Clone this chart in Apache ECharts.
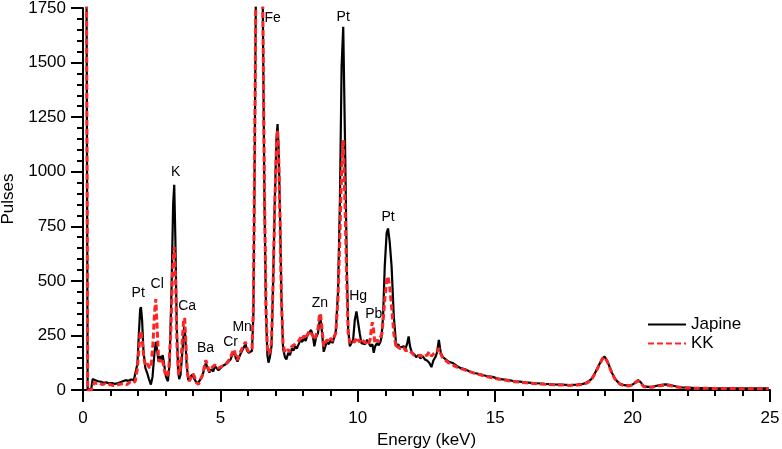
<!DOCTYPE html>
<html>
<head>
<meta charset="utf-8">
<script src="https://cdn.jsdelivr.net/npm/echarts@6/dist/echarts.min.js"></script>
<style>
html,body{margin:0;padding:0;background:#fff;}
#chart{width:782px;height:449px;}
</style>
</head>
<body>
<div id="chart"></div>
<script>
// Japine spectrum (energy keV, pulses)
var japineEnergy = [0.08,0.17,0.3,0.35,0.45,0.55,0.65,0.75,0.85,0.95,1.05,1.15,1.25,1.35,1.45,1.55,1.65,1.75,1.85,1.92,1.98,2.03,2.08,2.11,2.15,2.2,2.27,2.33,2.4,2.47,2.53,2.6,2.65,2.7,2.75,2.8,2.85,2.9,2.95,3.02,3.09,3.15,3.22,3.28,3.32,3.36,3.41,3.46,3.5,3.55,3.62,3.68,3.72,3.77,3.83,3.9,3.97,4.03,4.1,4.18,4.25,4.33,4.4,4.47,4.53,4.6,4.67,4.74,4.8,4.86,4.93,5.0,5.08,5.15,5.22,5.3,5.37,5.43,5.49,5.55,5.62,5.68,5.75,5.81,5.87,5.92,5.97,6.03,6.1,6.15,6.2,6.25,6.29,6.35,6.42,6.49,6.54,6.6,6.66,6.71,6.75,6.8,6.86,6.92,6.98,7.04,7.08,7.12,7.17,7.22,7.28,7.35,7.4,7.47,7.53,7.6,7.66,7.72,7.78,7.85,7.92,7.98,8.04,8.1,8.17,8.24,8.3,8.36,8.42,8.48,8.55,8.6,8.65,8.7,8.76,8.82,8.88,8.95,9.02,9.08,9.14,9.2,9.28,9.35,9.41,9.47,9.53,9.6,9.65,9.71,9.77,9.83,9.89,9.95,10.0,10.07,10.13,10.2,10.27,10.34,10.4,10.47,10.53,10.58,10.63,10.7,10.76,10.82,10.86,10.92,10.98,11.05,11.1,11.16,11.23,11.31,11.4,11.47,11.53,11.6,11.67,11.74,11.8,11.85,11.9,11.97,12.05,12.12,12.2,12.28,12.36,12.44,12.52,12.6,12.68,12.75,12.82,12.88,12.95,13.02,13.1,13.2,13.3,13.45,13.6,13.75,13.9,14.07,14.25,14.45,14.68,14.9,15.1,15.27,15.5,15.7,15.89,16.1,16.3,16.5,16.8,17.1,17.4,17.7,18.0,18.2,18.35,18.5,18.6,18.7,18.8,18.9,18.98,19.07,19.16,19.25,19.35,19.45,19.55,19.7,19.85,20.0,20.1,20.2,20.3,20.4,20.55,20.7,20.9,21.05,21.2,21.4,21.6,21.8,22.0,22.3,22.6,23.0,23.5,24.0,24.5,24.95];
var japinePulses = [4000,0,5,50,45,40,38,33,35,30,32,28,30,35,40,45,42,48,45,50,120,250,370,380,320,180,100,80,50,25,60,170,220,180,130,155,140,160,120,60,40,120,450,850,940,700,300,90,50,70,180,290,250,120,45,50,70,65,40,30,35,60,90,125,100,80,95,85,110,105,90,100,110,105,120,130,140,160,175,150,130,150,170,165,200,210,180,170,165,180,350,1100,1800,4000,5000,4000,1800,900,350,160,125,150,200,500,870,1150,1218,1100,800,420,190,150,140,170,160,190,180,200,190,210,230,220,240,225,250,265,275,250,200,240,260,310,320,260,175,200,220,210,230,215,240,270,450,870,1480,1664,1176,565,280,200,215,230,320,360,366,260,215,220,210,230,215,200,210,170,200,215,205,220,240,336,565,720,740,680,565,336,200,210,195,190,200,190,215,245,200,170,165,150,160,145,155,140,135,125,105,135,150,170,230,170,150,140,130,124,110,100,95,85,78,72,64,60,52,49,45,40,38,35,33,31,28,26,25,23,25,28,35,50,70,95,120,145,153,135,107,78,54,38,28,22,20,25,35,45,35,18,14,15,20,24,26,22,16,12,11,9,9,8,8,7,7,7];

// KK spectrum (energy keV, pulses)
var kkEnergy = [0.08,0.17,0.3,0.36,0.42,0.5,0.6,0.7,0.8,0.9,1.0,1.1,1.2,1.3,1.4,1.5,1.6,1.7,1.8,1.9,1.97,2.03,2.08,2.11,2.16,2.22,2.28,2.35,2.42,2.48,2.55,2.6,2.65,2.7,2.75,2.8,2.86,2.92,2.98,3.05,3.12,3.2,3.26,3.32,3.37,3.42,3.48,3.53,3.6,3.66,3.7,3.75,3.8,3.86,3.93,4.0,4.06,4.12,4.2,4.27,4.35,4.42,4.47,4.53,4.6,4.67,4.74,4.8,4.86,4.93,5.0,5.07,5.14,5.22,5.3,5.37,5.43,5.49,5.55,5.62,5.68,5.75,5.81,5.87,5.91,5.97,6.03,6.1,6.15,6.2,6.25,6.29,6.35,6.42,6.49,6.54,6.6,6.66,6.71,6.75,6.8,6.86,6.92,6.98,7.04,7.08,7.12,7.17,7.22,7.28,7.35,7.4,7.47,7.53,7.6,7.66,7.72,7.78,7.85,7.92,7.98,8.04,8.1,8.17,8.24,8.3,8.36,8.42,8.48,8.55,8.6,8.64,8.7,8.76,8.82,8.88,8.95,9.02,9.08,9.14,9.2,9.28,9.35,9.41,9.47,9.53,9.6,9.65,9.71,9.77,9.83,9.89,9.95,10.0,10.07,10.13,10.2,10.27,10.34,10.4,10.45,10.5,10.53,10.57,10.62,10.7,10.76,10.82,10.88,10.93,10.98,11.05,11.1,11.16,11.23,11.31,11.4,11.47,11.53,11.6,11.67,11.74,11.8,11.85,11.9,11.97,12.05,12.12,12.2,12.28,12.36,12.44,12.52,12.6,12.68,12.75,12.82,12.88,12.95,13.02,13.1,13.2,13.3,13.45,13.6,13.75,13.9,14.07,14.25,14.45,14.68,14.9,15.1,15.27,15.5,15.7,15.89,16.1,16.3,16.5,16.8,17.1,17.4,17.7,18.0,18.2,18.35,18.5,18.6,18.7,18.8,18.9,18.98,19.07,19.16,19.25,19.35,19.45,19.55,19.7,19.85,20.0,20.1,20.2,20.3,20.4,20.55,20.7,20.9,21.05,21.2,21.4,21.6,21.8,22.0,22.3,22.6,23.0,23.5,24.0,24.5,24.95];
var kkPulses = [4000,0,0,20,35,30,32,25,28,22,25,20,22,25,28,30,25,35,30,40,90,180,260,270,220,140,110,120,100,110,220,350,416,280,140,130,145,120,80,60,90,280,550,655,500,200,70,80,200,320,330,200,80,40,55,75,60,35,25,30,70,110,137,110,85,100,95,115,122,100,92,110,105,122,135,150,170,186,160,137,160,180,175,210,221,190,175,169,190,380,1150,1800,4000,5000,4000,1800,950,380,190,165,175,220,500,850,1120,1190,1080,780,420,210,170,165,185,175,200,195,210,205,225,240,230,250,235,255,270,265,250,230,250,280,340,351,280,200,215,230,220,238,225,245,260,420,718,1000,1145,870,488,260,215,225,230,220,240,230,220,235,225,215,225,215,230,290,310,280,215,230,220,240,260,330,412,500,520,473,381,260,190,200,190,185,195,180,185,183,175,170,160,165,155,160,150,155,160,175,155,165,160,175,192,165,145,135,125,115,105,98,92,84,76,70,62,56,50,47,42,38,36,33,31,29,26,24,23,21,23,26,33,48,68,92,118,142,150,132,105,75,52,36,26,20,18,23,33,42,32,16,12,13,17,21,23,19,14,10,9,8,8,7,7,6,6,6];

// Element annotations
var peakNames = ['Pt','Cl','K','Ca','Ba','Cr','Mn','Fe','Zn','Pt','Hg','Pb','Pt'];
var peakLabelEnergy = [2.01,2.70,3.37,3.79,4.46,5.37,5.79,6.9,8.62,9.47,10.01,10.58,11.1];
var peakLabelPulses = [443,485,1000,385,191,217,290,1702,397,1710,431,347,794];

var xTicks = [0,5,10,15,20,25];
var yTicks = [0,250,500,750,1000,1250,1500,1750];

function zip(a,b){var r=[];for(var i=0;i<a.length;i++){r.push([a[i],b[i]]);}return r;}
var labelData = [];
for (var i=0;i<peakNames.length;i++){labelData.push({value:[peakLabelEnergy[i],peakLabelPulses[i]],name:peakNames[i]});}

var FONT = 'Liberation Sans, Arial, sans-serif';
var chart = echarts.init(document.getElementById('chart'), null, {renderer:'canvas'});
chart.setOption({
  animation:false,
  backgroundColor:'#fff',
  textStyle:{fontFamily:FONT},
  grid:{left:83,right:12,top:8,bottom:59,containLabel:false,outerBoundsMode:'none'},
  legend:{
    data:['Japine','KK'],
    orient:'vertical',
    left:642, top:311,
    itemWidth:38, itemHeight:14, itemGap:2,
    itemStyle:{opacity:0},
    textStyle:{fontFamily:FONT,fontSize:17,color:'#000'}
  },
  xAxis:{
    type:'value', min:xTicks[0], max:xTicks[xTicks.length-1], interval:5,
    name:'Energy (keV)', nameLocation:'middle', nameGap:35,
    nameTextStyle:{fontFamily:FONT,fontSize:17,color:'#000'},
    axisLine:{show:true,onZero:false,lineStyle:{color:'#000',width:2}},
    axisTick:{show:true,inside:false,length:12,lineStyle:{color:'#000',width:2}},
    minorTick:{show:true,splitNumber:5,length:6,lineStyle:{color:'#000',width:2}},
    axisLabel:{margin:20,fontFamily:FONT,fontSize:17,color:'#000'},
    splitLine:{show:false}
  },
  yAxis:{
    type:'value', min:yTicks[0], max:yTicks[yTicks.length-1], interval:250,
    name:'Pulses', nameLocation:'middle', nameGap:64, nameRotate:90,
    nameTextStyle:{fontFamily:FONT,fontSize:17,color:'#000'},
    axisLine:{show:true,lineStyle:{color:'#000',width:2}},
    axisTick:{show:true,inside:false,length:12,lineStyle:{color:'#000',width:2}},
    minorTick:{show:true,splitNumber:5,length:6,lineStyle:{color:'#000',width:2}},
    axisLabel:{margin:17,fontFamily:FONT,fontSize:17,color:'#000',formatter:function(v){return String(v);}},
    splitLine:{show:false}
  },
  series:[
    {name:'Japine',type:'line',data:zip(japineEnergy,japinePulses),symbol:'none',showSymbol:false,clip:true,
     lineStyle:{color:'#000',width:2.2},itemStyle:{color:'#000'},z:2},
    {name:'KK',type:'line',data:zip(kkEnergy,kkPulses),symbol:'none',showSymbol:false,clip:true,
     lineStyle:{color:'#ff2424',width:3,type:[6,3]},itemStyle:{color:'#ff2424'},z:3},
    {name:'labels',type:'scatter',data:labelData,symbol:'circle',symbolSize:0,silent:true,z:5,
     itemStyle:{color:'#000',opacity:1},
     emphasis:{disabled:true},
     label:{show:true,position:'inside',formatter:'{b}',opacity:1,
            fontFamily:FONT,fontSize:14,color:'#000',textBorderWidth:0}}
  ]
});
</script>
</body>
</html>
